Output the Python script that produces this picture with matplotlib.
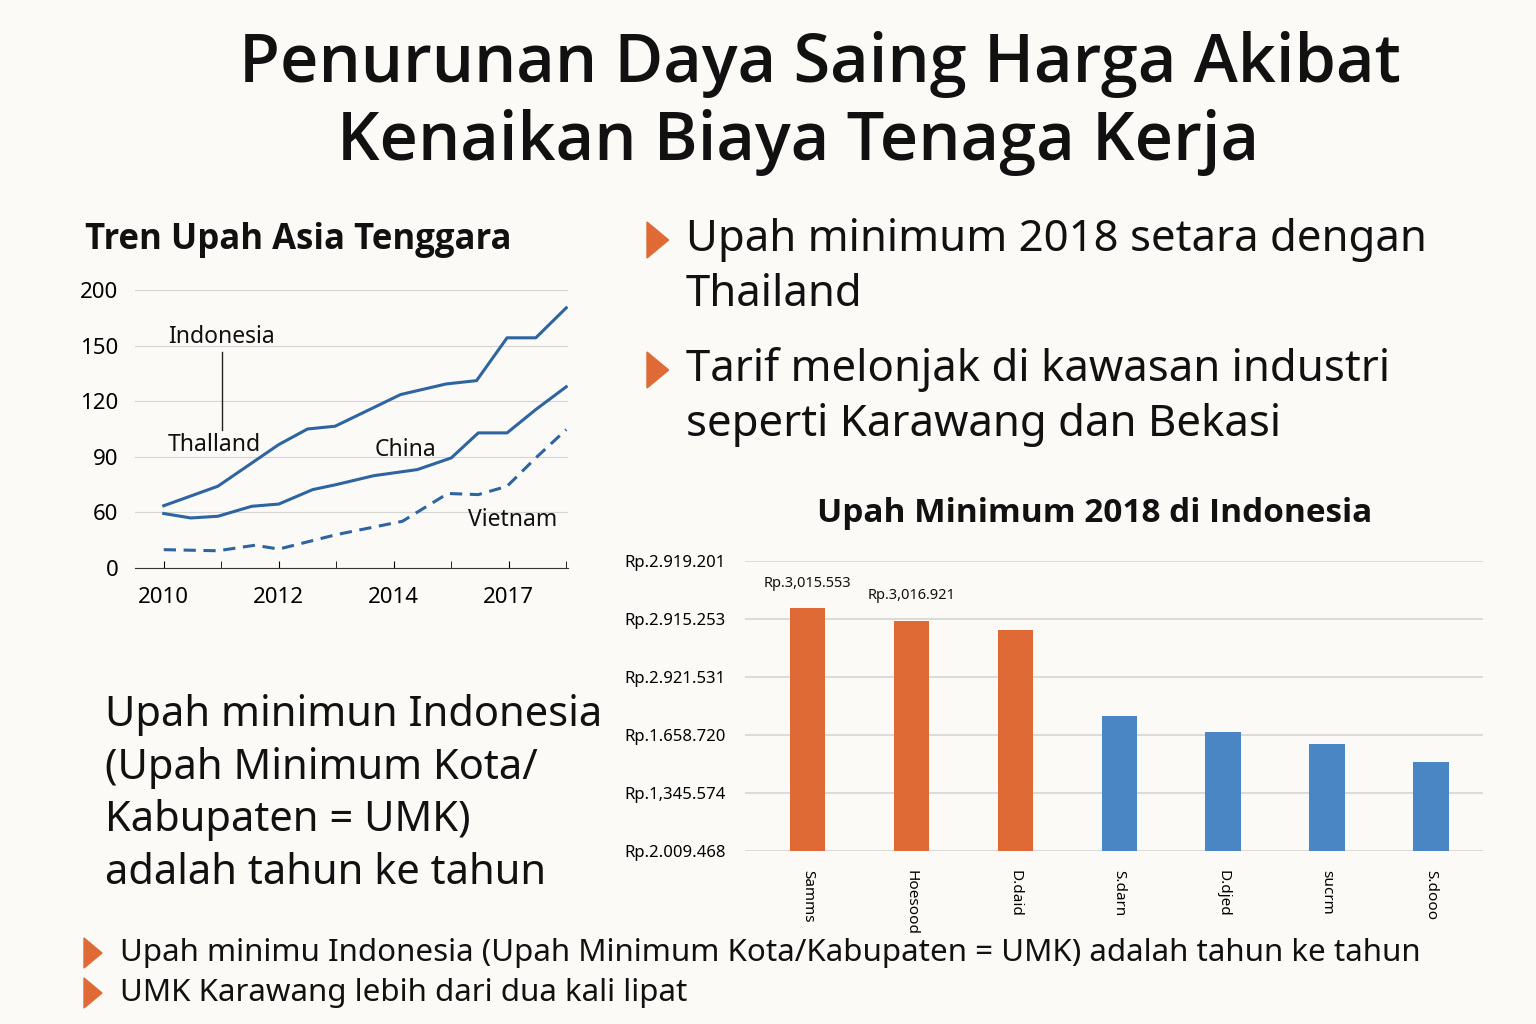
import matplotlib
matplotlib.use('Agg')
import matplotlib.pyplot as plt
from matplotlib.patches import Polygon
from matplotlib.lines import Line2D

plt.rcParams['font.family'] = ['Noto Sans', 'DejaVu Sans']
BOLDFAM = ['Open Sans', 'Liberation Sans', 'DejaVu Sans']

# line chart data (x index: 0=2010 ... ; y in tick-step units)
thai_x = [0, 0.94, 2.0, 2.5, 2.98, 4.12, 4.91, 5.44, 5.97, 6.47, 7.0]
thai_y = [1.12, 1.47, 2.22, 2.50, 2.55, 3.12, 3.31, 3.37, 4.14, 4.14, 4.68]
china_x = [0, 0.47, 0.94, 1.53, 2.0, 2.59, 3.0, 3.65, 4.41, 5.0, 5.47, 5.97, 6.47, 7.0]
china_y = [0.98, 0.90, 0.93, 1.11, 1.15, 1.41, 1.50, 1.66, 1.77, 1.98, 2.43, 2.43, 2.85, 3.26]
viet_x = [0, 0.94, 1.59, 2.0, 3.0, 4.15, 4.94, 5.47, 5.97, 6.47, 7.0]
viet_y = [0.33, 0.31, 0.41, 0.34, 0.60, 0.84, 1.34, 1.32, 1.47, 1.98, 2.49]
line_yticks = ['0', '60', '90', '120', '150', '200']
line_xticks = ['2010', '2012', '2014', '2017']

# bar chart data (grid-step units)
bar_names = ['Samms', 'Hoesood', 'D.daid', 'S.darn', 'D.djed', 'sucrm', 'S.dooo']
bar_vals = [4.19, 3.97, 3.81, 2.33, 2.05, 1.84, 1.53]
bar_cols = ['#e06a35'] * 3 + ['#4a86c3'] * 4
bar_yticks = ['Rp.2.009.468', 'Rp.1,345.574', 'Rp.1.658.720', 'Rp.2.921.531', 'Rp.2.915.253', 'Rp.2.919.201']
bar_notes = ['Rp.3,015.553', 'Rp.3,016.921']

W, H = 1536, 1024
fig = plt.figure(figsize=(15.36, 10.24), dpi=100)
fig.patch.set_facecolor('#fbfaf7')

def px(x, y):
    return x / W, 1 - y / H

def ft(x, y, s, **kw):
    fig.text(*px(x, y), s, **kw)

ft(820, 65, 'Penurunan Daya Saing Harga Akibat', fontsize=48, family=BOLDFAM, fontweight='semibold', ha='center', va='center', color='#111')
ft(798, 143, 'Kenaikan Biaya Tenaga Kerja', fontsize=48, family=BOLDFAM, fontweight='semibold', ha='center', va='center', color='#111')

# line chart
blue = '#2e64a0'
ax = fig.add_axes([135 / W, 1 - 568 / H, 433 / W, 278 / H])
ax.set_facecolor('none')
ax.plot(thai_x, thai_y, color=blue, lw=2.2)
ax.plot(china_x, china_y, color=blue, lw=2.2)
ax.plot(viet_x, viet_y, color=blue, lw=2.2, ls=(0, (4, 2.5)))
ax.set_xlim(-0.5, 7.03)
ax.set_ylim(0, 5)
ax.set_yticks(range(6))
ax.set_yticklabels(line_yticks, fontsize=16)
ax.set_xticks([0, 2, 4, 6])
ax.set_xticklabels(line_xticks, fontsize=16)
ax.set_xticks([1, 3, 5, 7], minor=True)
ax.tick_params(axis='y', length=0, pad=12)
ax.tick_params(axis='x', which='both', length=5, direction='in', pad=14)
ax.grid(axis='y', color='#d5d5d5', lw=0.8)
for s in ['top', 'right', 'left']:
    ax.spines[s].set_visible(False)
ax.spines['bottom'].set_color('#333')
ft(85, 240, 'Tren Upah Asia Tenggara', fontsize=25, family=BOLDFAM, fontweight='bold', va='center', color='#111')
ft(168, 337, 'Indonesia', fontsize=16.5, va='center', color='#111')
ft(168, 445, 'Thalland', fontsize=16.5, va='center', color='#111')
ft(375, 450, 'China', fontsize=16.5, va='center', color='#111')
ft(468, 520, 'Vietnam', fontsize=16.5, va='center', color='#111')
fig.add_artist(Line2D([222 / W, 222 / W], [1 - 352 / H, 1 - 430 / H], color='#222', lw=1))

def tri(x, y, s=18):
    fig.add_artist(Polygon([px(x, y - s), px(x, y + s), px(x + s * 1.2, y)], closed=True, color='#e06a35'))

tri(647, 240)
ft(686, 240, 'Upah minimum 2018 setara dengan', fontsize=31.5, va='center', color='#111')
ft(686, 295, 'Thailand', fontsize=31.5, va='center', color='#111')
tri(647, 370)
ft(686, 370, 'Tarif melonjak di kawasan industri', fontsize=31.5, va='center', color='#111')
ft(686, 425, 'seperti Karawang dan Bekasi', fontsize=31.5, va='center', color='#111')

ft(105, 715, 'Upah minimun Indonesia', fontsize=30, va='center', color='#111')
ft(105, 768, '(Upah Minimum Kota/', fontsize=30, va='center', color='#111')
ft(105, 820, 'Kabupaten = UMK)', fontsize=30, va='center', color='#111')
ft(105, 873, 'adalah tahun ke tahun', fontsize=30, va='center', color='#111')

# bar chart
ft(1095, 513, 'Upah Minimum 2018 di Indonesia', fontsize=24, family=BOLDFAM, fontweight='bold', ha='center', va='center', color='#111')
bx = fig.add_axes([745 / W, 1 - 851 / H, 738 / W, 290 / H])
bx.set_facecolor('none')
xs = range(len(bar_vals))
bx.bar(xs, bar_vals, width=0.34, color=bar_cols, zorder=3)
bx.set_xlim(-0.6, 6.5)
bx.set_ylim(0, 5)
bx.set_yticks(range(6))
bx.set_yticklabels(bar_yticks, fontsize=12)
bx.set_xticks(list(xs))
bx.set_xticklabels(bar_names, rotation=-90, fontsize=11)
bx.tick_params(length=0, pad=14)
bx.grid(axis='y', color='#d5d5d5', lw=1.2, zorder=0)
for s in bx.spines.values():
    s.set_visible(False)
for i, t in enumerate(bar_notes):
    bx.text(i, bar_vals[i] + 0.3, t, fontsize=10.5, ha='center', va='bottom', color='#111')

tri(84, 953, 15)
ft(120, 953, 'Upah minimu Indonesia (Upah Minimum Kota/Kabupaten = UMK) adalah tahun ke tahun', fontsize=22.5, va='center', color='#111')
tri(84, 993, 15)
ft(120, 993, 'UMK Karawang lebih dari dua kali lipat', fontsize=22.5, va='center', color='#111')

fig.savefig('out.png', dpi=100, facecolor=fig.get_facecolor())
